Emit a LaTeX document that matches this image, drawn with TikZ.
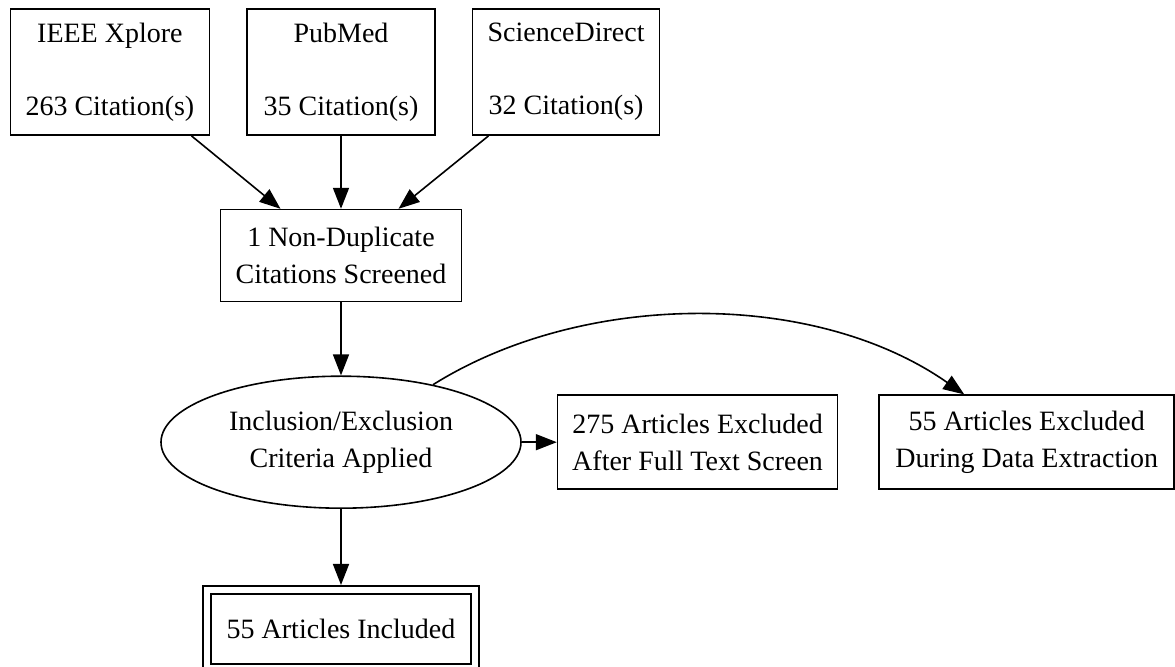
\documentclass[tikz,border=0pt]{standalone}
\usepackage{fontspec}
\setmainfont{Liberation Serif}
\usetikzlibrary{positioning, arrows.meta, shapes.geometric}
\tikzset{
  arr/.style={-{Triangle[length=10.5pt,width=8pt]}, line width=0.8pt, draw=black},
  blk/.style={draw=black, line width=0.8pt, align=center, inner sep=0pt, minimum height=47pt},
  src/.style={blk, minimum height=63pt},
  ell/.style={ellipse, draw=black, line width=0.8pt, align=center, inner sep=0pt, minimum width=180pt, minimum height=66pt},
  dbl/.style={blk, double, double distance=3.2pt}
}

\begin{document}
\begin{tikzpicture}[x=0.5pt, y=-0.5pt, font=\fontsize{14}{18.3}\selectfont]
\useasboundingbox (0,0) rectangle (1175,667);
\node[src, minimum width=94pt] (pub) at (341,72)
  {PubMed\\[18.3pt]35 Citation(s)};
\node[src, minimum width=99.5pt, left=18pt of pub] (ieee)
  {IEEE Xplore\\[18.3pt]263 Citation(s)};
\node[src, minimum width=93.5pt, right=18pt of pub] (sd)
  {ScienceDirect\\[18.3pt]32 Citation(s)};
\node[blk, minimum width=120.5pt, minimum height=46pt, below=36.5pt of pub] (scr)
  {1 Non-Duplicate\\Citations Screened};
\node[ell, below=36.5pt of scr] (crit)
  {Inclusion/Exclusion\\Criteria Applied};
\node[blk, minimum width=140pt, right=17.5pt of crit] (ftx)
  {275 Articles Excluded\\After Full Text Screen};
\node[blk, minimum width=147.5pt, right=20pt of ftx] (dex)
  {55 Articles Excluded\\During Data Extraction};
\node[dbl, minimum width=134pt, minimum height=39pt, below=40pt of crit] (inc)
  {55 Articles Included};
\draw[arr] ([xshift=40.75pt]ieee.south) -- ([xshift=-30.25pt]scr.north);
\draw[arr] (pub) -- (scr);
\draw[arr] ([xshift=-38.75pt]sd.south) -- ([xshift=28.75pt]scr.north);
\draw[arr] (scr) -- (crit);
\draw[arr] (crit) -- (ftx);
\draw[arr, shorten >=2pt] (crit) -- (inc);
\draw[arr] (crit.32) .. controls +(150,-94) and +(-150,-105) .. ([xshift=-31.25pt]dex.north);
\end{tikzpicture}
\end{document}
